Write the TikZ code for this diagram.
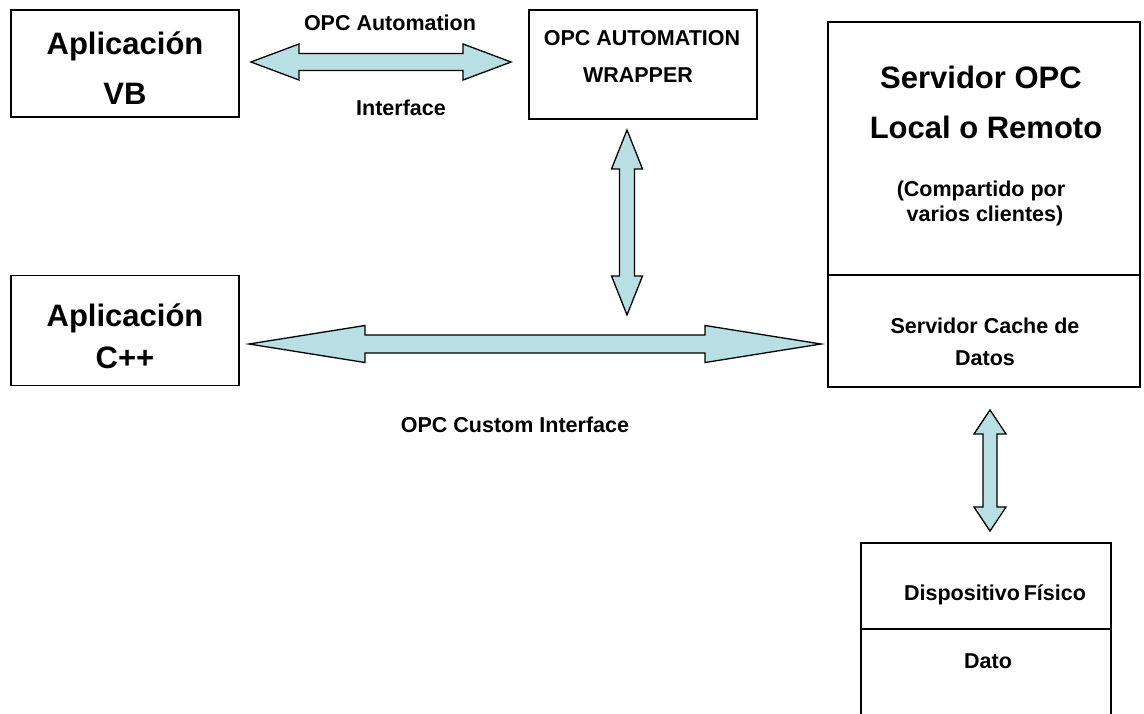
\documentclass[tikz,border=0pt]{standalone}
\usepackage{fontspec}
\setmainfont{Liberation Sans}
\usetikzlibrary{calc}
\definecolor{arrowfill}{RGB}{184,223,227}
\newcommand\hdbl[5]{%
  \draw[fatarrow] let \p1=(#1), \p2=(#2) in
    (\x1,\y1) -- (\x1+#3pt,\y1+#4pt) -- (\x1+#3pt,\y1+#5pt) -- (\x2-#3pt,\y1+#5pt) -- (\x2-#3pt,\y1+#4pt)
    -- (\x2,\y1) -- (\x2-#3pt,\y1-#4pt) -- (\x2-#3pt,\y1-#5pt) -- (\x1+#3pt,\y1-#5pt) -- (\x1+#3pt,\y1-#4pt) -- cycle;}
\newcommand\vdbl[5]{%
  \draw[fatarrow] let \p1=(#1), \p2=(#2) in
    (\x1,\y1) -- (\x1+#4pt,\y1-#3pt) -- (\x1+#5pt,\y1-#3pt) -- (\x1+#5pt,\y2+#3pt) -- (\x1+#4pt,\y2+#3pt)
    -- (\x1,\y2) -- (\x1-#4pt,\y2+#3pt) -- (\x1-#5pt,\y2+#3pt) -- (\x1-#5pt,\y1-#3pt) -- (\x1-#4pt,\y1-#3pt) -- cycle;}
\begin{document}
\begin{tikzpicture}[x=1pt,y=-1pt,
  box/.style={draw, line width=1.9pt, inner sep=0pt},
  fatarrow/.style={draw, fill=arrowfill, line width=1.3pt, line join=miter},
  big/.style={font=\bfseries\fontsize{31}{36}\selectfont, anchor=base, inner sep=0pt},
  small/.style={font=\bfseries\fontsize{21.5}{25}\selectfont, anchor=base, inner sep=0pt}]
\clip (0,0) rectangle (1144,713);
% boxes
\node[box, minimum width=228pt, minimum height=107pt] (vb) at (125,63.5) {};
\node[box, minimum width=228pt, minimum height=110pt] (cpp) at (125,330.5) {};
\node[box, minimum width=228pt, minimum height=109pt] (wrap) at (643,64.5) {};
\node[box, minimum width=312pt, minimum height=253pt] (srv) at (984,148.5) {};
\node[box, minimum width=312pt, minimum height=112pt] (cache) at (984,331) {};
\node[box, minimum width=250pt, minimum height=86pt] (dev) at (986,586) {};
\node[box, minimum width=250pt, minimum height=100pt] (dato) at (986,679) {};
% texts
\node[big] (t1) at (125,54) {Aplicación};
\node[big] (t2) at (125,104) {VB};
\node[big] (t3) at (125,326) {Aplicación};
\node[big] (t4) at (125,368) {C++};
\node[big] (t5) at (981,88) {Servidor OPC};
\node[big] (t6) at (986,138) {Local o Remoto};
\node[small] (t7) at (981,196) {(Compartido por};
\node[small] (t8) at (985,221) {varios clientes)};
\node[small] (t9) at (985,333) {Servidor Cache de};
\node[small] (t10) at (985,365) {Datos};
\node[small] (t11) at (390,30) {OPC Automation};
\node[small] (t12) at (401,115) {Interface};
\node[small] (t13) at (642,45) {OPC AUTOMATION};
\node[small] (t14) at (638,82) {WRAPPER};
\node[small] (t15) at (515,432) {OPC Custom Interface};
\node[small] (t16) at (995,600) {Dispositivo\kern-0.1em\ Físico};
\node[small] (t17) at (988,668) {Dato};
% arrow end points
\coordinate (a1) at ($(vb.east)+(11,-1.5)$);
\coordinate (a2) at ($(wrap.west)+(-17,-2.5)$);
\coordinate (b1) at ($(cpp.east)+(9,13.5)$);
\coordinate (b2) at ($(cache.west)+(-6,13)$);
\coordinate (c1) at ($(wrap.south)+(-16,10)$);
\coordinate (c2) at ($(wrap.south)+(-16,195)$);
\coordinate (d1) at ($(cache.south)+(6,22)$);
\coordinate (d2) at ($(dev.north)+(4,-11)$);
\hdbl{a1}{a2}{48}{18}{8.5}
\hdbl{b1}{b2}{116}{18.5}{9}
\vdbl{c1}{c2}{39}{15.5}{7.5}
\vdbl{d1}{d2}{24}{16}{7}
\end{tikzpicture}
\end{document}
